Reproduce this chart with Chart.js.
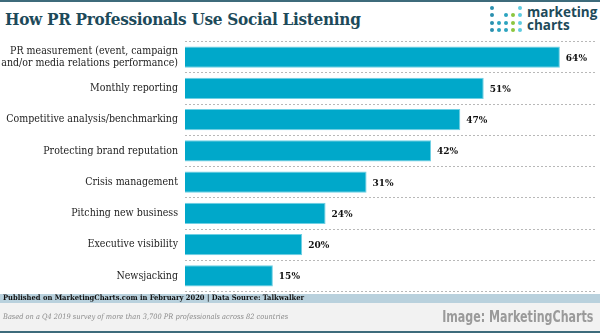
<!DOCTYPE html>
<html>
<head>
<meta charset="utf-8">
<script src="https://cdn.jsdelivr.net/npm/chart.js@4"></script>
<style>
  html, body { margin: 0; padding: 0; background: #fff; }
  #wrap { position: relative; width: 600px; height: 333px; overflow: hidden; background: #fff; }
  #topline { position: absolute; left: 0; top: 0; width: 600px; height: 2px; background: #3d6b7b; }
  #title { position: absolute; left: 5px; top: 9px; font: bold 17px "DejaVu Serif Condensed", "DejaVu Serif", serif; color: #1d4a5a; letter-spacing: -0.3px; white-space: nowrap; }
  #logo { position: absolute; left: 486px; top: 4px; width: 114px; height: 32px; }
  .dot { position: absolute; width: 4px; height: 4px; border-radius: 50%; }
  #logotext { position: absolute; left: 41px; top: 2px; font: bold 13.5px "Open Sans", "DejaVu Sans", sans-serif; color: #1d4a5a; line-height: 13px; }
  #box { position: absolute; left: 0; top: 36px; width: 600px; height: 258px; }
  #band { position: absolute; left: 0; top: 294px; width: 600px; height: 9px; background: #b9d1dd; }
  #band span { position: absolute; left: 3px; top: -1px; font: bold 7.5px "DejaVu Serif Condensed", "DejaVu Serif", serif; color: #111; white-space: nowrap; }
  #foot { position: absolute; left: 0; top: 303px; width: 600px; height: 28px; background: #f2f2f2; }
  #note { position: absolute; left: 3px; top: 9px; font: italic 7.4px "DejaVu Serif Condensed", "DejaVu Serif", serif; color: #8a8a8a; white-space: nowrap; }
  #credit { position: absolute; right: 7px; top: 4px; font: bold 16px "Liberation Sans Narrow", "DejaVu Sans Condensed", sans-serif; color: #9a9a9a; white-space: nowrap; transform: scaleX(0.77); transform-origin: right center; }
  #botline { position: absolute; left: 0; top: 331px; width: 600px; height: 2px; background: #3d6b7b; }
</style>
</head>
<body>
<div id="wrap">
  <div id="topline"></div>
  <div id="title">How PR Professionals Use Social Listening</div>
  <div id="logo"><div id="logotext">marketing<br>charts</div></div>
  <div id="box"><canvas id="chart"></canvas></div>
  <div id="band"><span>Published on MarketingCharts.com in February 2020 | Data Source: Talkwalker</span></div>
  <div id="foot">
    <div id="note">Based on a Q4 2019 survey of more than 3,700 PR professionals across 82 countries</div>
    <div id="credit">Image: MarketingCharts</div>
  </div>
  <div id="botline"></div>
</div>
<script>
// chart data
const categories = [
  ['PR measurement (event, campaign', 'and/or media relations performance)'],
  'Monthly reporting',
  'Competitive analysis/benchmarking',
  'Protecting brand reputation',
  'Crisis management',
  'Pitching new business',
  'Executive visibility',
  'Newsjacking'
];
const shares = [64, 51, 47, 42, 31, 24, 20, 15];

// logo dots (columns x rows)
const logo = document.getElementById('logo');
const dotCols = ['#2b8fae', '#2ba3bf', '#2ba3bf', '#8cc63f', '#5fcbe0'];
const dotRows = [[0, 4], [0, 2, 3, 4], [0, 1, 2, 3, 4], [0, 1, 2, 3, 4]];
dotRows.forEach((cols, r) => {
  cols.forEach((c) => {
    const d = document.createElement('div');
    d.className = 'dot';
    d.style.left = (4 + c * 7) + 'px';
    d.style.top = (2 + r * 7.3) + 'px';
    d.style.background = dotCols[c];
    logo.appendChild(d);
  });
});

const labelFont = '"DejaVu Serif Condensed", "DejaVu Serif", serif';

// draws the % next to each bar
const valueLabels = {
  id: 'valueLabels',
  afterDatasetsDraw(chart) {
    const ctx = chart.ctx;
    const meta = chart.getDatasetMeta(0);
    ctx.save();
    ctx.font = 'bold 10px ' + labelFont;
    ctx.fillStyle = '#111';
    ctx.textBaseline = 'middle';
    meta.data.forEach((bar, i) => {
      ctx.fillText(shares[i] + '%', bar.x + 6, bar.y + 1);
    });
    ctx.restore();
  }
};

new Chart(document.getElementById('chart'), {
  type: 'bar',
  data: {
    labels: categories,
    datasets: [{
      data: shares,
      backgroundColor: '#00a8ca',
      borderColor: '#6fd0e4',
      borderWidth: 1,
      categoryPercentage: 1,
      barPercentage: 0.68
    }]
  },
  options: {
    indexAxis: 'y',
    responsive: true,
    maintainAspectRatio: false,
    animation: false,
    devicePixelRatio: 1,
    layout: { padding: { top: 5.5, bottom: 2.5, left: 0, right: 5 } },
    plugins: { legend: { display: false }, tooltip: { enabled: false } },
    scales: {
      x: { display: false, min: 0, max: 70 },
      y: {
        afterFit(scale) {
          scale.width = 185;
          scale.paddingTop = 0;
          scale.paddingBottom = 0;
        },
        border: { display: false, dash: [2, 2] },
        grid: { color: '#b8b8b8', lineWidth: 1, drawTicks: false },
        ticks: {
          color: '#222',
          padding: 7,
          font: { family: labelFont, size: 10.5, lineHeight: 1.15 }
        }
      }
    }
  },
  plugins: [valueLabels]
});
</script>
</body>
</html>
